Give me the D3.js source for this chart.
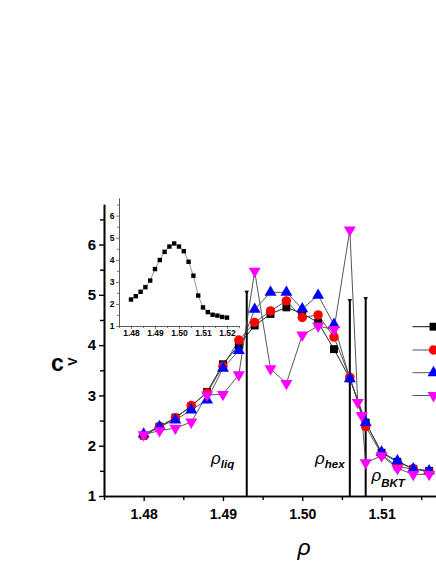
<!DOCTYPE html>
<html><head><meta charset="utf-8">
<script src="https://cdn.jsdelivr.net/npm/d3@7"></script>
<style>
html,body{margin:0;padding:0;background:#fff;overflow:hidden}
svg{display:block}
text{font-family:"Liberation Sans",Arial,sans-serif}
</style></head><body>
<svg id="c" width="436" height="564"></svg>
<script>
// ---------- data ----------
const rho = [1.480,1.482,1.484,1.486,1.488,1.490,1.492,1.494,1.496,1.498,1.500,1.502,1.504,1.506,1.508,1.510,1.512,1.514,1.516];
const cvSquare = [2.20,2.38,2.56,2.78,3.07,3.62,4.00,4.39,4.62,4.75,4.63,4.45,3.92,3.34,2.46,1.86,1.68,1.54,1.50];
const cvCircle = [2.20,2.38,2.55,2.80,3.05,3.58,4.10,4.45,4.68,4.88,4.55,4.60,4.16,3.36,2.38,1.83,1.58,1.54,1.48];
const cvUp     = [2.23,2.38,2.51,2.71,2.91,3.54,3.89,4.71,5.05,5.05,4.72,4.99,4.41,3.33,2.46,1.87,1.70,1.54,1.50];
const rhoDown  = [1.480,1.482,1.484,1.486,1.488,1.490,1.492,1.494,1.496,1.498,1.500,1.502,1.504,1.506,1.507,1.5075,1.508,1.510,1.512,1.514,1.516];
const cvDown   = [2.22,2.30,2.35,2.47,3.01,3.02,3.41,5.47,3.53,3.24,4.20,4.38,4.31,6.29,2.86,2.60,1.66,1.80,1.55,1.43,1.43];
const rhoInset = [1.480,1.482,1.484,1.486,1.488,1.490,1.492,1.494,1.496,1.498,1.500,1.502,1.504,1.506,1.508,1.510,1.512,1.514,1.516,1.518,1.520];
const cvInset  = [2.20,2.35,2.55,2.76,3.06,3.58,3.99,4.36,4.60,4.74,4.60,4.39,3.91,3.28,2.38,1.84,1.63,1.51,1.47,1.41,1.38];
const transRho = [1.493,1.506,1.508];
const transTop = [5.08,4.91,4.95];
const transLabel = [["\u03c1","liq"],["\u03c1","hex"],["\u03c1","BKT"]];
const xTicks = [1.48,1.49,1.50,1.51];
const xMinor = [1.475,1.485,1.495,1.505,1.515];
const yTicks = [1,2,3,4,5,6];
const yMinor = [1.5,2.5,3.5,4.5,5.5,6.5];
const insetXTicks = [1.48,1.49,1.50,1.51,1.52];
const insetXMinor = [1.475,1.485,1.495,1.505,1.515,1.525];
const insetYTicks = [1,2,3,4,5,6];

const svg = d3.select("#c");

// ---------- main scales ----------
const x = d3.scaleLinear().domain([1.475,1.525]).range([104,500.5]);
const y = d3.scaleLinear().domain([1,6.8]).range([496,204.3]);

// axes
const gx = svg.append("g").attr("transform","translate(0,496)");
gx.call(d3.axisBottom(x).tickValues(xTicks).tickFormat(d3.format(".2f")).tickSize(5).tickSizeOuter(0));
const gxm = svg.append("g").attr("transform","translate(0,496)");
gxm.call(d3.axisBottom(x).tickValues(xMinor).tickFormat("").tickSize(4).tickSizeOuter(0));
const gy = svg.append("g").attr("transform","translate(104,0)");
gy.call(d3.axisLeft(y).tickValues(yTicks).tickFormat(d3.format("d")).tickSize(5).tickSizeOuter(0));
const gym = svg.append("g").attr("transform","translate(104,0)");
gym.call(d3.axisLeft(y).tickValues(yMinor).tickFormat("").tickSize(4).tickSizeOuter(0));
[gx,gxm,gy,gym].forEach(g=>{
  g.select(".domain").attr("stroke","#000").attr("stroke-width",1.6);
  g.selectAll(".tick line").attr("stroke","#000").attr("stroke-width",1.4);
  g.selectAll(".tick text").attr("fill","#000").attr("font-weight","bold").attr("font-size",14)
    .attr("font-family","Liberation Sans, Arial, sans-serif");
});
gx.selectAll(".tick text").attr("dy","1.05em");
gy.selectAll(".tick text").attr("x",-8).attr("font-size",15);

// axis titles
svg.append("text").attr("x",51).attr("y",371).attr("font-size",23).attr("font-weight","bold").text("c");
svg.append("text").attr("x",73).attr("y",361.5).attr("font-size",12.5).attr("font-weight","bold")
  .attr("text-anchor","middle").attr("dominant-baseline","central")
  .attr("transform","rotate(-90,73,361.5)").text("V");
svg.append("text").attr("x",304).attr("y",555).attr("font-size",23).attr("font-style","italic")
  .attr("text-anchor","middle").text("\u03c1");

// transition lines
transRho.forEach((r,i)=>{
  const xx = x(r);
  svg.append("line").attr("x1",xx).attr("x2",xx).attr("y1",y(1)).attr("y2",y(transTop[i]))
    .attr("stroke","#000").attr("stroke-width",2);
  svg.append("path").attr("d",`M${xx-2.5},${y(transTop[i])}L${xx+2.5},${y(transTop[i])}L${xx},${y(transTop[i])+3}Z`)
    .attr("fill","#000");
});
// transition labels
const labPos = [[211,464,468],[315,464,468],[371.5,481,487]];
transLabel.forEach((l,i)=>{
  const t = svg.append("text").attr("x",labPos[i][0]).attr("y",labPos[i][1]);
  t.append("tspan").attr("font-size",17).attr("font-style","italic").text(l[0]);
  t.append("tspan").attr("font-size",11.5).attr("font-style","italic").attr("font-weight","bold")
    .attr("dy",labPos[i][2]-labPos[i][1]).text(l[1]);
});

// series
const line = d3.line().x(d=>x(d[0])).y(d=>y(d[1]));
const sSq = rho.map((r,i)=>[r,cvSquare[i]]);
const sCi = rho.map((r,i)=>[r,cvCircle[i]]);
const sUp = rho.map((r,i)=>[r,cvUp[i]]);
const sDn = rhoDown.map((r,i)=>[r,cvDown[i]]);
const series = [
  {data:sSq, color:"#000", sym:d3.symbolSquare, size:62, rot:0, lc:"#111"},
  {data:sCi, color:"#ff0000", sym:d3.symbolCircle, size:70, rot:0, lc:"#444"},
  {data:sUp, color:"#0000ff", sym:d3.symbolTriangle, size:62, rot:0, lc:"#444"},
  {data:sDn, color:"#ff00ff", sym:d3.symbolTriangle, size:62, rot:180, lc:"#444"}
];
series.forEach(s=>{
  svg.append("path").attr("d",line(s.data)).attr("fill","none").attr("stroke",s.lc).attr("stroke-width",0.9);
});
series.forEach(s=>{
  const sy = d3.symbol().type(s.sym).size(s.size);
  svg.append("g").selectAll("path").data(s.data).join("path")
    .attr("d",sy).attr("fill",s.color)
    .attr("transform",d=>`translate(${x(d[0])},${y(d[1])}) rotate(${s.rot})`);
});

// legend (cut off at right edge)
const legY = [326.7,350,372.7,395.5];
series.forEach((s,i)=>{
  svg.append("line").attr("x1",412.5).attr("x2",433).attr("y1",legY[i]).attr("y2",legY[i])
    .attr("stroke",i===0?"#111":"#555").attr("stroke-width",1);
  svg.append("path").attr("d",d3.symbol().type(s.sym).size(s.size)).attr("fill",s.color)
    .attr("transform",`translate(433.5,${legY[i]}) rotate(${s.rot})`);
});

// ---------- inset ----------
const xi = d3.scaleLinear().domain([1.475,1.525]).range([119,239]);
const yi = d3.scaleLinear().domain([1,6.8]).range([326,198]);
const gxi = svg.append("g").attr("transform","translate(0,326)");
gxi.call(d3.axisBottom(xi).tickValues(insetXTicks).tickFormat(d3.format(".2f")).tickSize(3).tickSizeOuter(0));
const gxim = svg.append("g").attr("transform","translate(0,326)");
gxim.call(d3.axisBottom(xi).tickValues(insetXMinor).tickFormat("").tickSize(2).tickSizeOuter(0));
const gyi = svg.append("g").attr("transform","translate(119,0)");
gyi.call(d3.axisLeft(yi).tickValues(insetYTicks).tickFormat(d3.format("d")).tickSize(3).tickSizeOuter(0));
const gyim = svg.append("g").attr("transform","translate(119,0)");
gyim.call(d3.axisLeft(yi).tickValues(yMinor).tickFormat("").tickSize(2).tickSizeOuter(0));
[gxi,gxim,gyi,gyim].forEach(g=>{
  g.select(".domain").attr("stroke","#555").attr("stroke-width",0.8);
  g.selectAll(".tick line").attr("stroke","#555").attr("stroke-width",0.8);
  g.selectAll(".tick text").attr("fill","#000").attr("font-weight","bold").attr("font-size",8.5)
    .attr("font-family","Liberation Sans, Arial, sans-serif");
});
gxi.selectAll(".tick text").attr("y",4);
gyi.selectAll(".tick text").attr("x",-4.5);
const lineI = d3.line().x(d=>xi(d[0])).y(d=>yi(d[1]));
const sIn = rhoInset.map((r,i)=>[r,cvInset[i]]);
svg.append("path").attr("d",lineI(sIn)).attr("fill","none").attr("stroke","#888").attr("stroke-width",0.9);
svg.append("g").selectAll("rect").data(sIn).join("rect")
  .attr("x",d=>xi(d[0])-2.2).attr("y",d=>yi(d[1])-2.2).attr("width",4.4).attr("height",4.4).attr("fill","#000");
</script></body></html>
